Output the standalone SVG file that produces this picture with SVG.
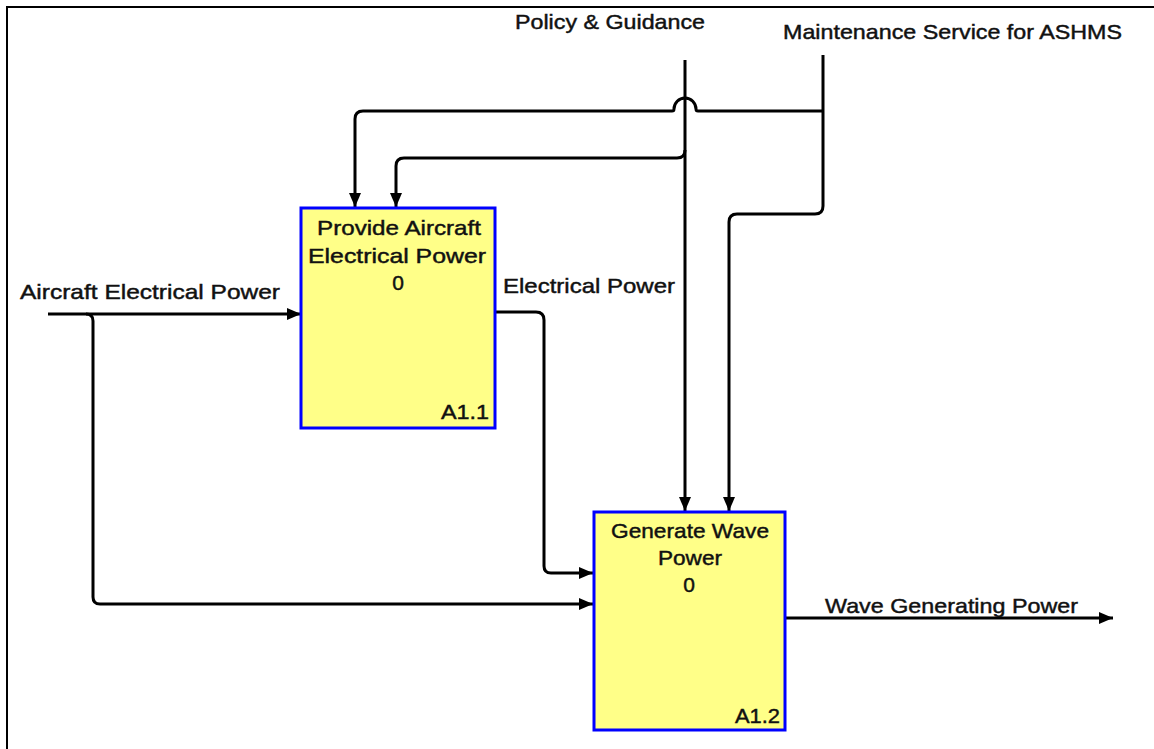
<svg xmlns="http://www.w3.org/2000/svg" width="1154" height="749" viewBox="0 0 1154 749">
<style>
.bg{fill:#ffffff}
.frame{fill:none;stroke:#000;stroke-width:2}
.box{fill:#ffff88;stroke:#0000ff;stroke-width:3}
.wire{fill:none;stroke:#000;stroke-width:3;stroke-linejoin:round}
.t{font-family:"Liberation Sans",Arial,sans-serif;font-size:21px;fill:#111;stroke:#111;stroke-width:0.45}
.c{text-anchor:middle}
.e{text-anchor:end}
</style>
<defs>
<marker id="arr" viewBox="0 0 14 12" refX="14" refY="6" markerWidth="14" markerHeight="12" markerUnits="userSpaceOnUse" orient="auto">
<path d="M0,0 L14,6 L0,12 Z" fill="#000"/>
</marker>
</defs>
<rect class="bg" x="0" y="0" width="1154" height="749"/>
<path class="frame" d="M7,749 L7,7 L1154,7"/>

<g id="connectors">
<!-- Aircraft Electrical Power input -->
<path class="wire" d="M48,314 L301,314" marker-end="url(#arr)"/>
<path class="wire" d="M86,314 Q93,314 93,321 L93,597 Q93,604 100,604 L593,604" marker-end="url(#arr)"/>
<!-- Electrical Power -->
<path class="wire" d="M495,312 L536,312 Q544,312 544,320 L544,566 Q544,573 551,573 L593,573" marker-end="url(#arr)"/>
<!-- Policy & Guidance -->
<path class="wire" d="M685,60 L685,511" marker-end="url(#arr)"/>
<path class="wire" d="M685,150 Q685,158 677,158 L404,158 Q396,158 396,166 L396,207" marker-end="url(#arr)"/>
<!-- Maintenance Service for ASHMS -->
<path class="wire" d="M823,55 L823,206 Q823,214 815,214 L737,214 Q729,214 729,222 L729,511" marker-end="url(#arr)"/>
<path class="wire" d="M823,111 L698,111 Q696,111 696,109 A11,11 0 0 0 674,109 Q674,111 672,111 L363,111 Q355,111 355,119 L355,207" marker-end="url(#arr)"/>
<!-- Wave Generating Power output -->
<path class="wire" d="M785,618 L1113,618" marker-end="url(#arr)"/>
</g>

<g id="node-a11">
<rect class="box" x="301" y="208" width="194" height="220"/>
<text class="t c" x="399" y="235" textLength="164" lengthAdjust="spacingAndGlyphs">Provide Aircraft</text>
<text class="t c" x="397" y="263" textLength="178" lengthAdjust="spacingAndGlyphs">Electrical Power</text>
<text class="t c" x="398" y="290">0</text>
<text class="t e" x="489" y="419" textLength="48" lengthAdjust="spacingAndGlyphs">A1.1</text>
</g>

<g id="node-a12">
<rect class="box" x="594" y="512" width="191" height="218"/>
<text class="t c" x="690" y="538" textLength="158" lengthAdjust="spacingAndGlyphs">Generate Wave</text>
<text class="t c" x="690" y="565" textLength="64" lengthAdjust="spacingAndGlyphs">Power</text>
<text class="t c" x="689" y="592">0</text>
<text class="t e" x="780" y="723" textLength="45" lengthAdjust="spacingAndGlyphs">A1.2</text>
</g>

<g id="labels">
<text class="t" x="515" y="29" textLength="190" lengthAdjust="spacingAndGlyphs">Policy &amp; Guidance</text>
<text class="t" x="783" y="39" textLength="339" lengthAdjust="spacingAndGlyphs">Maintenance Service for ASHMS</text>
<text class="t" x="20" y="299" textLength="260" lengthAdjust="spacingAndGlyphs">Aircraft Electrical Power</text>
<text class="t" x="503" y="293" textLength="172" lengthAdjust="spacingAndGlyphs">Electrical Power</text>
<text class="t" x="825" y="613" textLength="253" lengthAdjust="spacingAndGlyphs">Wave Generating Power</text>
</g>
</svg>
